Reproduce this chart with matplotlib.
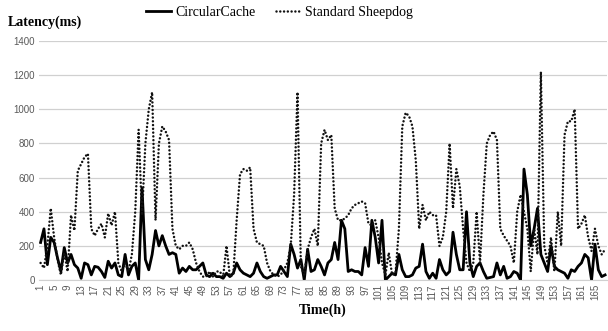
import matplotlib
matplotlib.use('Agg')
import matplotlib.pyplot as plt

# Hours of the week (1..168)
hours = list(range(1, 169))

# CircularCache latency (ms)
circular_cache = [
    220, 300, 90, 250, 220, 130, 50, 190, 100, 150,
    90, 70, 10, 100, 90, 30, 80, 75, 50, 15,
    110, 70, 100, 30, 20, 150, 30, 80, 100, 0,
    540, 120, 60, 150, 290, 200, 260, 200, 150, 160,
    150, 40, 70, 50, 80, 60, 60, 80, 100, 30,
    20, 40, 20, 20, 10, 40, 20, 40, 100, 60,
    40, 30, 20, 40, 100, 50, 20, 10, 20, 30,
    30, 80, 50, 20, 210, 150, 70, 120, 0, 180,
    50, 60, 120, 80, 30, 100, 120, 220, 120, 350,
    300, 50, 60, 50, 50, 30, 190, 80, 350, 250,
    100, 350, 0, 20, 40, 30, 150, 60, 20, 20,
    30, 70, 80, 210, 50, 10, 40, 10, 120, 60,
    30, 50, 280, 150, 60, 60, 400, 100, 20, 80,
    100, 50, 10, 15, 20, 100, 30, 80, 10, 20,
    50, 40, 0, 650, 500, 200, 300, 420, 150, 100,
    50, 200, 80, 60, 50, 40, 10, 60, 50, 80,
    100, 150, 130, 0, 210, 60, 20, 30,
]

# Standard Sheepdog latency (ms)
standard_sheepdog = [
    100, 70, 200, 420, 250, 120, 30, 160, 50, 380,
    290, 640, 680, 720, 740, 300, 260, 300, 330, 250,
    390, 320, 400, 100, 50, 100, 50, 150, 400, 880,
    380, 800, 1000, 1100, 350, 800, 900, 870, 820, 300,
    200, 180, 200, 200, 220, 180, 100, 50, 20, 20,
    50, 20, 50, 50, 20, 200, 20, 30, 350, 620,
    650, 640, 660, 300, 220, 210, 200, 100, 50, 30,
    20, 30, 60, 100, 200, 500, 1100, 80, 30, 180,
    250, 300, 200, 800, 880, 820, 850, 420, 350, 350,
    360, 380, 420, 440, 450, 460, 450, 330, 320, 350,
    250, 100, 30, 160, 30, 40, 300, 900, 980, 960,
    900, 700, 300, 440, 350, 400, 380, 380, 200, 250,
    400, 800, 420, 650, 550, 300, 100, 50, 100, 400,
    100, 500, 800, 850, 870, 820, 300, 260, 230, 200,
    100, 400, 500, 400, 300, 50, 300, 150, 1220, 200,
    100, 250, 50, 400, 200, 850, 930, 930, 1000, 300,
    330, 380, 250, 170, 300, 200, 150, 180,
]

y_ticks = [0, 200, 400, 600, 800, 1000, 1200, 1400]
x_ticks = hours[::4]

fig = plt.figure(figsize=(6.08, 3.31), dpi=100)
ax = fig.add_axes([0.064, 0.154, 0.934, 0.722])

ax.plot(hours, circular_cache, color='black', linewidth=2.0, label='CircularCache')
# round dots, like the office "round dot" dash style
ax.plot(hours, standard_sheepdog, color='#111111', linewidth=1.8, linestyle=(0, (0.01, 1.5)),
        dash_capstyle='round', label='Standard Sheepdog')

ax.set_xlim(0.5, 168.5)
ax.set_ylim(0, 1400)
ax.set_yticks(y_ticks)
ax.set_xticks(x_ticks)
ax.set_xticklabels([str(h) for h in x_ticks], rotation=90, fontsize=7, color='#595959',
                   family='Liberation Sans')
ax.set_yticklabels([str(v) for v in y_ticks], fontsize=7, color='#595959', family='Liberation Sans')
ax.tick_params(length=0, pad=3)
ax.grid(axis='y', color='#d0d0d0', linewidth=0.9)
ax.set_axisbelow(True)
for side in ['top', 'right', 'left']:
    ax.spines[side].set_visible(False)
ax.spines['bottom'].set_color('#d0d0d0')

fig.text(0.013, 0.922, 'Latency(ms)', fontsize=10, fontweight='bold', family='Liberation Serif')
ax.set_xlabel('Time(h)', fontsize=10, fontweight='bold', family='Liberation Serif', labelpad=2)

fig.legend(loc='upper center', bbox_to_anchor=(0.46, 1.02), ncol=2, frameon=False,
           prop={'family': 'Liberation Serif', 'size': 10}, handlelength=1.8, columnspacing=1.5,
           handletextpad=0.3)

plt.savefig('out.png', dpi=100)
